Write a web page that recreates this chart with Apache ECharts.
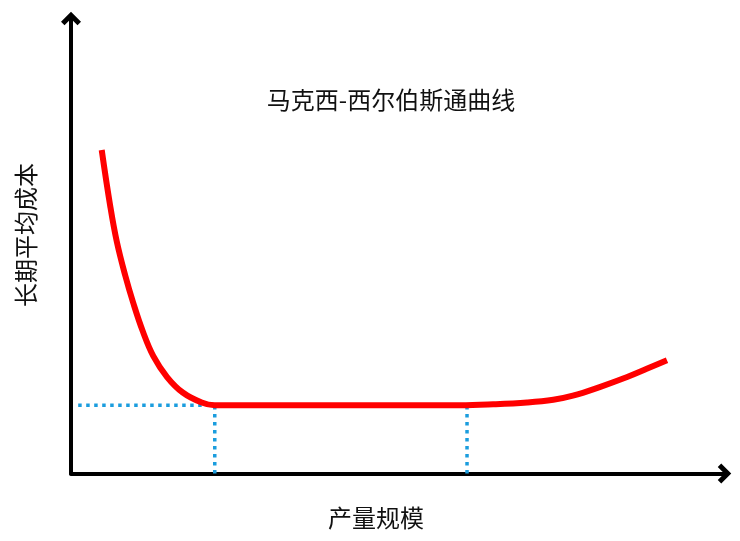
<!DOCTYPE html>
<html>
<head>
<meta charset="utf-8">
<script src="https://cdn.jsdelivr.net/npm/echarts@6/dist/echarts.min.js"></script>
<style>html,body{margin:0;padding:0;background:#fff}#chart{width:740px;height:541px}</style>
</head>
<body>
<div id="chart"></div>
<script>
// Long-run average cost curve (Maxcy-Silberston), x = output scale, y = LRAC
const curveX = [4.7, 6.0, 7.0, 8.3, 9.5, 11.0, 12.6, 14.7, 17.1, 20.0, 22.0, 35.0, 50.0, 59.5, 64.6, 69.8, 73.8, 76.8, 80.9, 85.1, 88.1, 91.2];
const curveY = [71.1, 58.8, 51.0, 43.5, 37.6, 31.2, 25.8, 21.2, 17.8, 15.6, 15.0, 15.0, 15.0, 15.0, 15.2, 15.6, 16.2, 17.1, 19.0, 21.2, 23.0, 24.9];
const minCostLevel = 15.0;
const mesStartX = 22.0;   // minimum efficient scale start
const mesEndX = 60.6;     // end of flat segment
const guideStartX = 1.1;
const titleText = '马克西-西尔伯斯通曲线';
const xName = '产量规模';
const yName = '长期平均成本';

const curveData = curveX.map((x, i) => [x, curveY[i]]);
const dotStyle = { color: '#1B9DDE', width: 3.5, type: [3.5, 4.5] };

const chevron = 'path://M10,0 L20,10 L16.5,13.5 L10,7 L3.5,13.5 L0,10 Z';
const axisLineCommon = {
  show: true,
  lineStyle: { color: '#000', width: 4 },
  symbol: ['none', chevron],
  symbolSize: [20, 17]
};

const chart = echarts.init(document.getElementById('chart'), null, { renderer: 'canvas' });
chart.setOption({
  backgroundColor: '#fff',
  animation: false,
  grid: { left: 71, right: 15.5, top: 18.5, bottom: 67.5 },
  xAxis: {
    type: 'value', min: 0, max: 100,
    axisLine: axisLineCommon,
    axisTick: { show: false }, axisLabel: { show: false }, splitLine: { show: false }
  },
  yAxis: {
    type: 'value', min: 0, max: 100,
    axisLine: axisLineCommon,
    axisTick: { show: false }, axisLabel: { show: false }, splitLine: { show: false }
  },
  series: [
    {
      type: 'line', symbol: 'none', silent: true, z: 1,
      data: [[guideStartX, minCostLevel], [mesStartX, minCostLevel]],
      lineStyle: dotStyle
    },
    {
      type: 'line', symbol: 'none', silent: true, z: 1,
      data: [[mesStartX, 0], [mesStartX, minCostLevel]],
      lineStyle: dotStyle
    },
    {
      type: 'line', symbol: 'none', silent: true, z: 1,
      data: [[mesEndX, 0], [mesEndX, minCostLevel]],
      lineStyle: dotStyle
    },
    {
      type: 'line', symbol: 'none', smooth: 0.4, z: 3,
      data: curveData,
      lineStyle: { color: '#FF0000', width: 6, cap: 'butt', join: 'round' }
    }
  ],
  graphic: [
    {
      type: 'text', x: 391, y: 100,
      style: { text: titleText, fill: '#111', font: '24px "Noto Sans CJK SC"', align: 'center', verticalAlign: 'middle' }
    },
    {
      type: 'text', x: 376, y: 518,
      style: { text: xName, fill: '#111', font: '24px "Noto Sans CJK SC"', align: 'center', verticalAlign: 'middle' }
    },
    {
      type: 'text', x: 26, y: 235, rotation: Math.PI / 2,
      style: { text: yName, fill: '#111', font: '24px "Noto Sans CJK SC"', align: 'center', verticalAlign: 'middle' }
    }
  ]
});
</script>
</body>
</html>
